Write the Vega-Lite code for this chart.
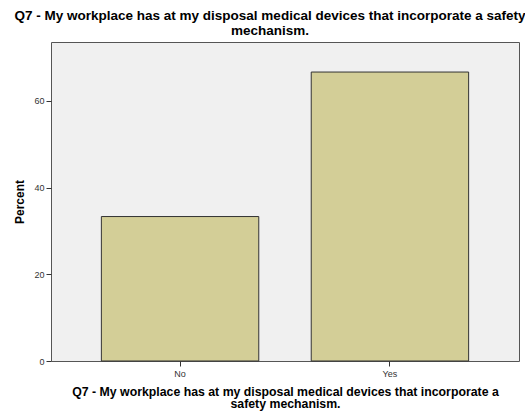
{
  "$schema": "https://vega.github.io/schema/vega-lite/v6.json",
  "autosize": "none",
  "width": 468,
  "height": 319,
  "padding": {"left": 51, "top": 42, "right": 6, "bottom": 52},
  "background": "white",
  "data": {"values": [
    {"answer": "No", "percent": 33.33},
    {"answer": "Yes", "percent": 66.67}
  ]},
  "title": {
    "text": ["Q7 - My workplace has at my disposal medical devices that incorporate a safety", "mechanism."],
    "font": "Liberation Sans",
    "fontSize": 13.5,
    "fontWeight": "bold",
    "color": "#000000",
    "anchor": "middle",
    "lineHeight": 14.5,
    "offset": 5,
    "dx": -15
  },
  "config": {
    "view": {"fill": "#f0f0f0", "stroke": "#555555", "strokeWidth": 1},
    "axis": {"grid": false, "domain": false, "labelFont": "Liberation Sans", "titleFont": "Liberation Sans"}
  },
  "mark": {"type": "bar", "fill": "#d3ce97", "stroke": "#333333", "strokeWidth": 1},
  "encoding": {
    "x": {
      "field": "answer",
      "type": "nominal",
      "scale": {"paddingInner": 0.25, "paddingOuter": 0.24},
      "axis": {
        "title": ["Q7 - My workplace has at my disposal medical devices that incorporate a", "safety mechanism."],
        "titleFontSize": 12.3,
        "titleFontWeight": "bold",
        "titleColor": "#000000",
        "titleLineHeight": 12.5,
        "titlePadding": 7,
        "labelAngle": 0,
        "labelFontSize": 9,
        "labelColor": "#333333",
        "tickColor": "#333333",
        "tickSize": 5,
        "labelPadding": 3
      }
    },
    "y": {
      "field": "percent",
      "type": "quantitative",
      "scale": {"domain": [0, 73.6], "nice": false},
      "axis": {
        "title": "Percent",
        "values": [0, 20, 40, 60],
        "titleFontSize": 12,
        "titleFontWeight": "bold",
        "titleColor": "#000000",
        "titlePadding": 7,
        "labelFontSize": 9,
        "labelColor": "#333333",
        "tickColor": "#333333",
        "tickSize": 5,
        "labelPadding": 2
      }
    }
  }
}
